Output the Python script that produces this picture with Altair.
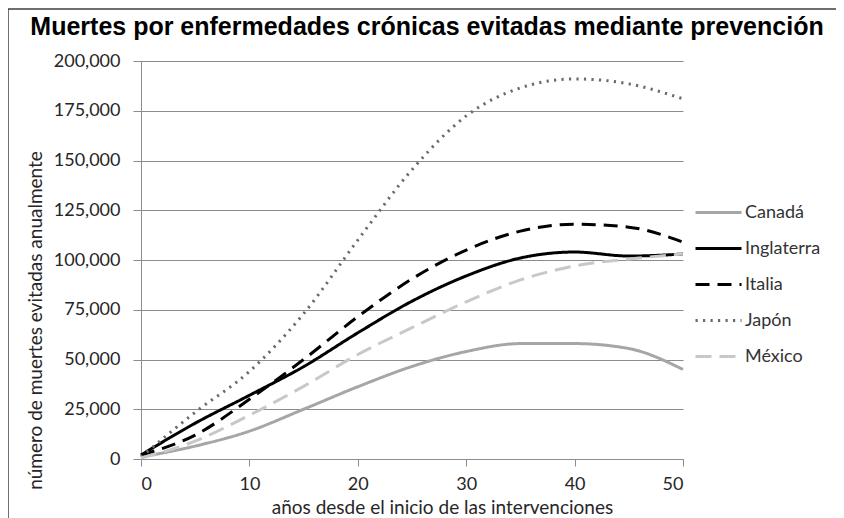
import altair as alt
import pandas as pd

years = [0, 5, 10, 15, 20, 25, 30, 35, 40, 45, 50]
canada = [1000, 6500, 14000, 25000, 36300, 46500, 54000, 58000, 58000, 55500, 45000]
inglaterra = [2000, 18000, 32000, 46400, 63400, 79300, 92000, 101000, 104000, 102000, 103000]
italia = [2000, 12000, 30000, 50000, 71500, 90500, 105000, 114500, 118000, 116500, 109000]
japon = [1000, 23500, 44000, 73000, 110000, 145400, 172400, 186500, 191000, 188500, 181000]
mexico = [500, 9000, 22000, 36500, 52500, 66000, 79000, 90000, 97000, 100500, 103000]

countries = ["Canadá", "Inglaterra", "Italia", "Japón", "México"]
series = [canada, inglaterra, italia, japon, mexico]
colors = ["#a6a6a6", "#000000", "#000000", "#6a6a6a", "#c8c8c8"]
dashes = [[1, 0], [1, 0], [14, 8], [2.2, 5.3], [16, 8]]
widths = [3, 3, 3.5, 3, 3]

rows = []
for c, vals in zip(countries, series):
    for x, v in zip(years, vals):
        rows.append({"pais": c, "anio": x, "muertes": v})
df = pd.DataFrame(rows)

FONT = "Lato"

lines = alt.Chart(df).mark_line(interpolate="monotone", clip=False).encode(
    x=alt.X("anio:Q", scale=alt.Scale(domain=[0, 50], nice=False),
            axis=alt.Axis(values=[0, 10, 20, 30, 40, 50], grid=False,
                          title="años desde el inicio de las intervenciones",
                          titleX=301, titleY=54, titleBaseline="alphabetic",
                          titleFontSize=19, labelPadding=9, tickSize=7)),
    y=alt.Y("muertes:Q", scale=alt.Scale(domain=[0, 200000], nice=False),
            axis=alt.Axis(values=list(range(0, 200001, 25000)), format=",.0f",
                          title="número de muertes evitadas anualmente",
                          titleX=-106, titleY=259, titleAngle=-90,
                          titleFontSize=19,
                          titleAlign="center", titleBaseline="middle",
                          labelPadding=13, tickSize=8)),
    color=alt.Color("pais:N", scale=alt.Scale(domain=countries, range=colors),
                    legend=alt.Legend(title=None, orient="none", legendX=553, legendY=127,
                                      symbolType="stroke", symbolSize=2116,
                                      symbolStrokeWidth=3, rowPadding=2,
                                      labelFontSize=18, labelFont=FONT,
                                      labelColor="#333333", labelOffset=2)),
    strokeDash=alt.StrokeDash("pais:N", scale=alt.Scale(domain=countries, range=dashes), legend=None),
    strokeWidth=alt.StrokeWidth("pais:N", scale=alt.Scale(domain=countries, range=widths), legend=None),
)

frame = alt.Chart(pd.DataFrame({"k": [0]})).mark_rect(
    fill=None, stroke="#404040", strokeWidth=1.5, clip=False
).encode(x=alt.value(-133), x2=alt.value(702), y=alt.value(-52), y2=alt.value(470))

chart = alt.layer(lines, frame).properties(
    width=542, height=398,
    title=alt.TitleParams("Muertes por enfermedades crónicas evitadas mediante prevención",
                          font="Liberation Sans", fontSize=25, fontWeight="bold",
                          color="#000000", anchor="middle", dx=15, offset=-32),
    padding={"left": 133, "top": 53, "right": 153, "bottom": 59},
    autosize=alt.AutoSizeParams(type="none"),
).configure_view(stroke=None).configure_axis(
    domainColor="#8c8c8c", tickColor="#8c8c8c", gridColor="#8c8c8c",
    labelFont=FONT, labelFontSize=18, labelColor="#262626",
    titleFont=FONT, titleFontSize=18, titleColor="#262626", titleFontWeight="normal",
).configure_axisY(grid=True)

chart.save("out.html", embed_options={"renderer": "svg", "actions": False})
